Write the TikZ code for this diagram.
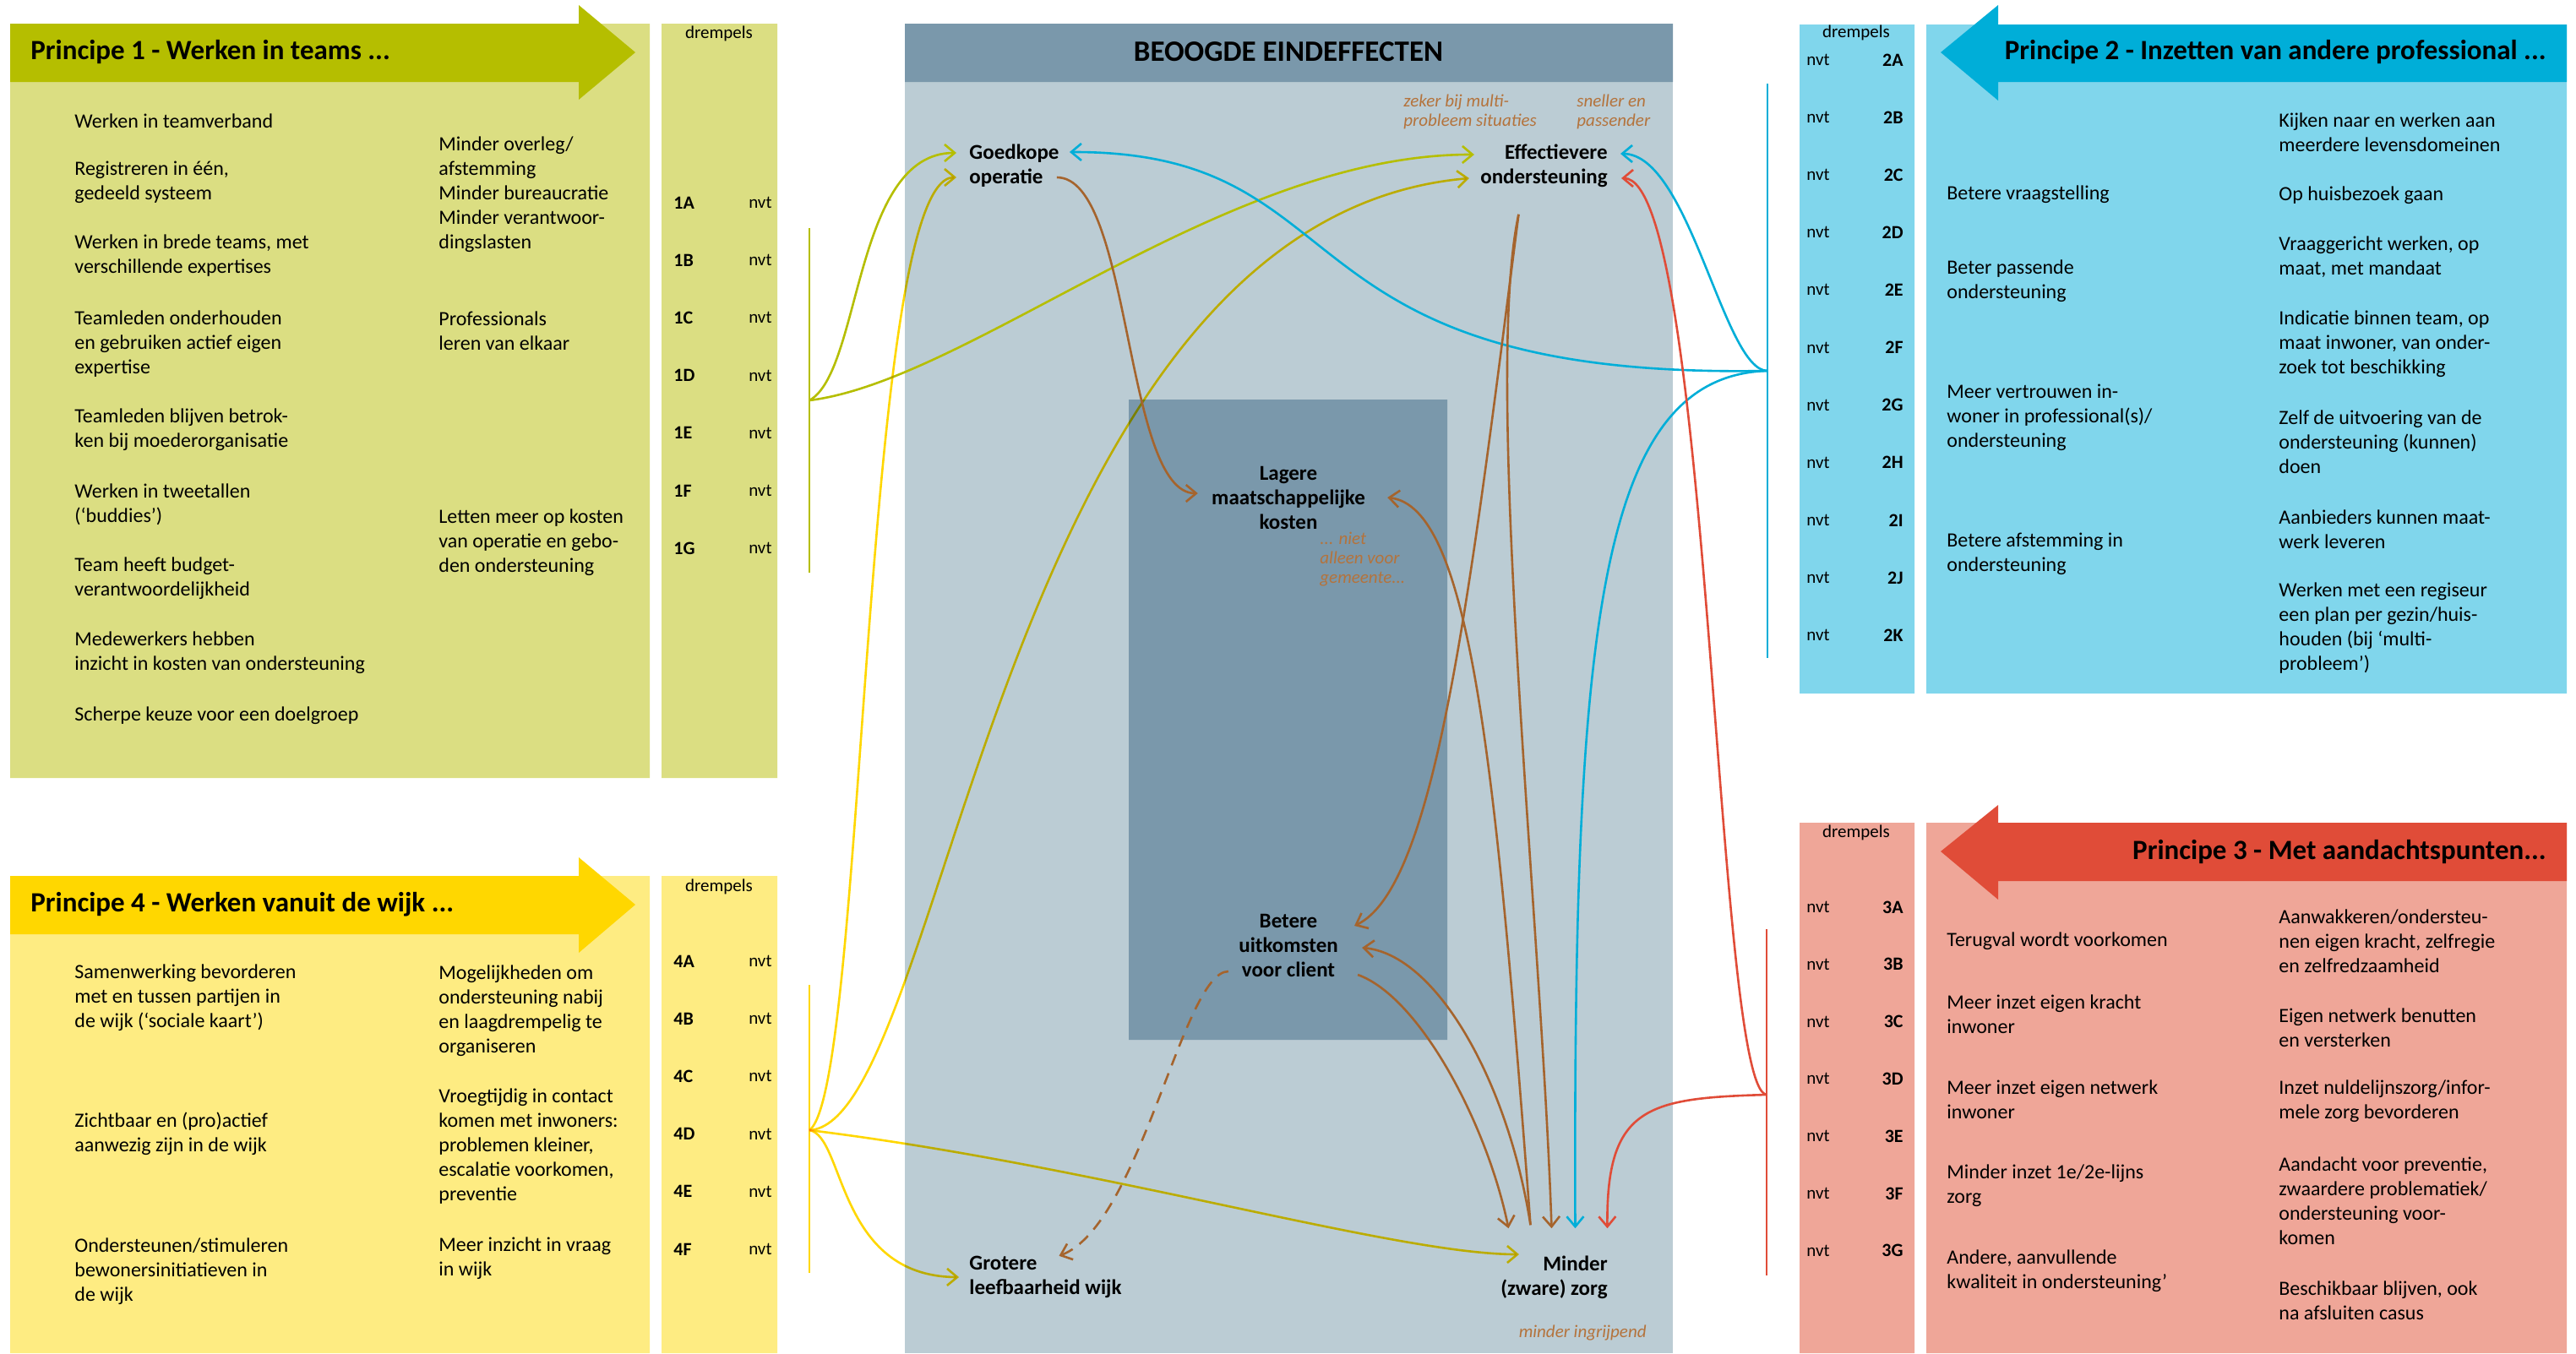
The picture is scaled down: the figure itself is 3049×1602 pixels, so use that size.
\documentclass[tikz,border=0pt]{standalone}
\usepackage{fontspec}
\setmainfont{Carlito}
\usetikzlibrary{arrows.meta}

\definecolor{tgreen}{RGB}{181,190,0}
\definecolor{tgreenlight}{RGB}{219,222,130}
\definecolor{tyellow}{RGB}{255,215,0}
\definecolor{tyellowlight}{RGB}{254,236,130}
\definecolor{tblue}{RGB}{0,174,216}
\definecolor{tbluelight}{RGB}{128,214,236}
\definecolor{tred}{RGB}{224,76,56}
\definecolor{tredlight}{RGB}{239,166,152}
\definecolor{goallight}{RGB}{187,204,212}
\definecolor{goaldark}{RGB}{122,152,171}
\definecolor{tbrown}{RGB}{165,100,45}
\definecolor{notebrown}{RGB}{180,115,60}

\tikzset{
	every node/.style={inner sep=0pt},
	txt/.style={anchor=west, align=left, font=\fontsize{12}{14.5}\selectfont},
	princ/.style={font=\fontsize{16.5}{18}\selectfont\bfseries},
	dr/.style={font=\fontsize{10.5}{12}\selectfont},
	drcode/.style={font=\fontsize{11}{13}\selectfont\bfseries},
	goal/.style={font=\fontsize{12.5}{14.5}\selectfont\bfseries},
	note/.style={font=\fontsize{10.5}{11.5}\selectfont\itshape, text=notebrown, align=left},
	link/.style={line width=1.3pt, -{Straight Barb[length=6pt,width=10pt]}},
	bar/.style={line width=1.3pt},
}

\begin{document}
\begin{tikzpicture}[x=0.5pt,y=-0.5pt]
	\useasboundingbox (0,0) rectangle (3049,1602);

	% panels
	\fill[tgreenlight] (12,28) rectangle (769,921) (783,28) rectangle (920,921);
	\fill[tgreen] (12,28) -- (685,28) -- (685,6) -- (752,62) -- (685,118) -- (685,97) -- (12,97) -- cycle;
	\fill[tyellowlight] (12,1037) rectangle (769,1602) (783,1037) rectangle (920,1602);
	\fill[tyellow] (12,1037) -- (685,1037) -- (685,1015) -- (752,1071) -- (685,1128) -- (685,1106) -- (12,1106) -- cycle;
	\fill[tbluelight] (2280,29) rectangle (3038,821) (2130,29) rectangle (2266,821);
	\fill[tblue] (3038,29) -- (2365,29) -- (2365,6) -- (2297,62) -- (2365,119) -- (2365,97) -- (3038,97) -- cycle;
	\fill[tredlight] (2280,974) rectangle (3038,1602) (2130,974) rectangle (2266,1602);
	\fill[tred] (3038,974) -- (2365,974) -- (2365,953) -- (2297,1008) -- (2365,1065) -- (2365,1043) -- (3038,1043) -- cycle;
	\fill[goallight] (1071,28) rectangle (1980,1602);
	\fill[goaldark] (1071,28) rectangle (1980,97) (1336,473) rectangle (1713,1231);

	% principe 1
	\node[princ, anchor=west] (p1) at (36,62) {Principe 1 - Werken in teams ...};
	\node[dr] (dr1) at (851,40) {drempels};
	\node[txt] (p1a) at (88,143) {Werken in teamverband};
	\node[txt] (p1b) at (88,216) {Registreren in één,\\gedeeld systeem};
	\node[txt] (p1c) at (88,303) {Werken in brede teams, met\\verschillende expertises};
	\node[txt] (p1d) at (88,407) {Teamleden onderhouden\\en gebruiken actief eigen\\expertise};
	\node[txt] (p1e) at (88,509) {Teamleden blijven betrok-\\ken bij moederorganisatie};
	\node[txt] (p1f) at (88,597) {Werken in tweetallen\\(`buddies')};
	\node[txt] (p1g) at (88,685) {Team heeft budget-\\verantwoordelijkheid};
	\node[txt] (p1h) at (88,773) {Medewerkers hebben\\inzicht in kosten van ondersteuning};
	\node[txt] (p1i) at (88,847) {Scherpe keuze voor een doelgroep};
	\node[txt] (p1j) at (519,230) {Minder overleg/\\afstemming\\Minder bureaucratie\\Minder verantwoor-\\dingslasten};
	\node[txt] (p1k) at (519,392) {Professionals\\leren van elkaar};
	\node[txt] (p1l) at (519,642) {Letten meer op kosten\\van operatie en gebo-\\den ondersteuning};
	\foreach \l [count=\i from 0] in {A,B,C,D,E,F,G}{
		\node[drcode, anchor=west] (c1\l) at (797,240+68.2*\i) {1\l};
		\node[dr, anchor=east] (n1\l) at (914,240+68.2*\i) {nvt};
	}

	% principe 4
	\node[princ, anchor=west] (p4) at (36,1071) {Principe 4 - Werken vanuit de wijk ...};
	\node[dr] (dr4) at (851,1050) {drempels};
	\node[txt] (p4a) at (88,1181) {Samenwerking bevorderen\\met en tussen partijen in\\de wijk (`sociale kaart')};
	\node[txt] (p4b) at (88,1342) {Zichtbaar en (pro)actief\\aanwezig zijn in de wijk};
	\node[txt] (p4c) at (88,1505) {Ondersteunen/stimuleren\\bewonersinitiatieven in\\de wijk};
	\node[txt] (p4d) at (519,1197) {Mogelijkheden om\\ondersteuning nabij\\en laagdrempelig te\\organiseren};
	\node[txt] (p4e) at (519,1357) {Vroegtijdig in contact\\komen met inwoners:\\problemen kleiner,\\escalatie voorkomen,\\preventie};
	\node[txt] (p4f) at (519,1490) {Meer inzicht in vraag\\in wijk};
	\foreach \l [count=\i from 0] in {A,B,C,D,E,F}{
		\node[drcode, anchor=west] (c4\l) at (797,1138+68.2*\i) {4\l};
		\node[dr, anchor=east] (n4\l) at (914,1138+68.2*\i) {nvt};
	}

	% principe 2
	\node[princ, anchor=east] (p2) at (3014,62) {Principe 2 - Inzetten van andere professional ...};
	\node[dr] (dr2) at (2197,39) {drempels};
	\node[txt] (p2a) at (2304,230) {Betere vraagstelling};
	\node[txt] (p2b) at (2304,333) {Beter passende\\ondersteuning};
	\node[txt] (p2c) at (2304,494) {Meer vertrouwen in-\\woner in professional(s)/\\ondersteuning};
	\node[txt] (p2d) at (2304,656) {Betere afstemming in\\ondersteuning};
	\node[txt] (p2e) at (2697,157) {Kijken naar en werken aan\\meerdere levensdomeinen};
	\node[txt] (p2f) at (2697,231) {Op huisbezoek gaan};
	\node[txt] (p2g) at (2697,304) {Vraaggericht werken, op\\maat, met mandaat};
	\node[txt] (p2h) at (2697,407) {Indicatie binnen team, op\\maat inwoner, van onder-\\zoek tot beschikking};
	\node[txt] (p2i) at (2697,523) {Zelf de uitvoering van de\\ondersteuning (kunnen)\\doen};
	\node[txt] (p2j) at (2697,627) {Aanbieders kunnen maat-\\werk leveren};
	\node[txt] (p2k) at (2697,744) {Werken met een regiseur\\een plan per gezin/huis-\\houden (bij `multi-\\probleem')};
	\foreach \l [count=\i from 0] in {A,B,C,D,E,F,G,H,I,J,K}{
		\node[dr, anchor=west] (n2\l) at (2138,71+68.1*\i) {nvt};
		\node[drcode, anchor=east] (c2\l) at (2253,71+68.1*\i) {2\l};
	}

	% principe 3
	\node[princ, anchor=east] (p3) at (3014,1008) {Principe 3 - Met aandachtspunten...};
	\node[dr] (dr3) at (2197,986) {drempels};
	\node[txt] (p3a) at (2304,1114) {Terugval wordt voorkomen};
	\node[txt] (p3b) at (2304,1201) {Meer inzet eigen kracht\\inwoner};
	\node[txt] (p3c) at (2304,1302) {Meer inzet eigen netwerk\\inwoner};
	\node[txt] (p3d) at (2304,1404) {Minder inzet 1e/2e-lijns\\zorg};
	\node[txt] (p3e) at (2304,1505) {Andere, aanvullende\\kwaliteit in ondersteuning'};
	\node[txt] (p3f) at (2697,1114) {Aanwakkeren/ondersteu-\\nen eigen kracht, zelfregie\\en zelfredzaamheid};
	\node[txt] (p3g) at (2697,1217) {Eigen netwerk benutten\\en versterken};
	\node[txt] (p3h) at (2697,1304) {Inzet nuldelijnszorg/infor-\\mele zorg bevorderen};
	\node[txt] (p3i) at (2697,1422) {Aandacht voor preventie,\\zwaardere problematiek/\\ondersteuning voor-\\komen};
	\node[txt] (p3j) at (2697,1540) {Beschikbaar blijven, ook\\na afsluiten casus};
	\foreach \l [count=\i from 0] in {A,B,C,D,E,F,G}{
		\node[dr, anchor=west] (n3\l) at (2138,1074+67.8*\i) {nvt};
		\node[drcode, anchor=east] (c3\l) at (2253,1074+67.8*\i) {3\l};
	}

	% beoogde eindeffecten
	\node[font=\fontsize{17.5}{19}\selectfont\bfseries] (head) at (1525,61) {BEOOGDE EINDEFFECTEN};
	\node[goal, anchor=west, align=left] (goedkoop) at (1147,196) {Goedkope\\operatie};
	\node[goal, anchor=east, align=right] (effectief) at (1903,196) {Effectievere\\ondersteuning};
	\node[goal, align=center] (lagere) at (1525,589) {Lagere\\maatschappelijke\\kosten};
	\node[goal, align=center] (betere) at (1525,1119) {Betere\\uitkomsten\\voor client};
	\node[goal, anchor=west, align=left] (grotere) at (1147,1512) {Grotere\\leefbaarheid wijk};
	\node[goal, anchor=east, align=right] (minder) at (1903,1512) {Minder\\(zware) zorg};
	\node[note, anchor=west] (zeker) at (1661,132) {zeker bij multi-\\probleem situaties};
	\node[note, anchor=west] (sneller) at (1866,132) {sneller en\\passender};
	\node[note, anchor=west] (niet) at (1562,662) {... niet\\alleen voor\\gemeente...};
	\node[note, anchor=east] (ingrijpend) at (1949,1578) {minder ingrijpend};

	\coordinate (fork1) at (958,474);
	\coordinate (fork4) at (958,1338);
	\coordinate (fork2) at (2092,439);
	\coordinate (fork3) at (2091,1296);

	% groen
	\draw[bar, tgreen] (958,270) -- (958,678);
	\draw[link, tgreen] (fork1) .. controls (1020,440) and (1010,181) .. ([xshift=-7.5pt,yshift=7.5pt]goedkoop.west);
	\draw[link, tgreen] (fork1) .. controls (1150,450) and (1450,182) .. ([xshift=-3.5pt,yshift=6.5pt]effectief.west);

	% geel
	\draw[bar, tyellow] (958,1166) -- (958,1507);
	\begin{scope}[blend mode=multiply]
	\draw[link, tyellow] (fork4) .. controls (1025,1290) and (1020,210) .. ([xshift=-7.5pt,yshift=-7pt]goedkoop.west);
	\draw[link, tyellow] (fork4) .. controls (1120,1330) and (1180,260) .. ([xshift=-6.5pt,yshift=-7.5pt]effectief.west);
	\draw[link, tyellow] (fork4) .. controls (1300,1380) and (1650,1485) .. ([xshift=11pt,yshift=13.5pt]minder.west);
	\draw[link, tyellow] (fork4) .. controls (1000,1345) and (990,1511) .. ([xshift=-6pt]grotere.west);
	\end{scope}

	% blauw
	\draw[bar, tblue] (2092,99) -- (2092,779);
	\draw[link, tblue] (fork2) .. controls (2040,439) and (2000,182) .. ([xshift=7.5pt,yshift=7pt]effectief.east);
	\draw[link, tblue] (fork2) .. controls (1500,450) and (1620,179) .. ([xshift=6pt,yshift=8pt]goedkoop.east);
	\draw[link, tblue] (fork2) .. controls (1890,445) and (1862,750) .. ([xshift=12.5pt,yshift=16pt]minder.north);

	% rood
	\draw[bar, tred] (2091,1100) -- (2091,1510);
	\draw[link, tred] (fork3) .. controls (1950,1300) and (1901,1310) .. ([xshift=31.5pt,yshift=16pt]minder.north);
	\draw[link, tred] (fork3) .. controls (2030,1290) and (2025,211) .. ([xshift=8pt,yshift=-7.5pt]effectief.east);

	% bruin
	\draw[link, tbrown] ([xshift=-1.5pt,yshift=-7pt]goedkoop.east) .. controls (1340,210) and (1330,584) .. ([xshift=-8pt,yshift=2.5pt]lagere.west);
	\draw[link, tbrown] ([xshift=-15pt,yshift=-16pt]effectief.south) .. controls (1740,700) and (1700,1050) .. ([xshift=9.5pt,yshift=11.5pt]betere.east);
	\draw[link, tbrown] ([xshift=-15pt,yshift=-16pt]effectief.south) .. controls (1755,450) and (1825,1100) .. ([xshift=-1.5pt,yshift=16pt]minder.north);
	\draw[link, tbrown] ([xshift=-14pt,yshift=18pt]minder.north) .. controls (1770,900) and (1740,600) .. ([xshift=13pt]lagere.east);
	\draw[link, tbrown] ([xshift=-14pt,yshift=18pt]minder.north) .. controls (1785,1280) and (1700,1130) .. ([xshift=14pt,yshift=-1.5pt]betere.east);
	\draw[link, tbrown] ([xshift=11.5pt,yshift=-17.5pt]betere.east) .. controls (1680,1180) and (1760,1330) .. ([xshift=-27pt,yshift=16pt]minder.north);
	\draw[link, tbrown, dash pattern=on 7pt off 5pt] ([xshift=-6pt,yshift=-15.5pt]betere.west) .. controls (1400,1150) and (1350,1450) .. ([xshift=8pt]grotere.north);
\end{tikzpicture}
\end{document}
